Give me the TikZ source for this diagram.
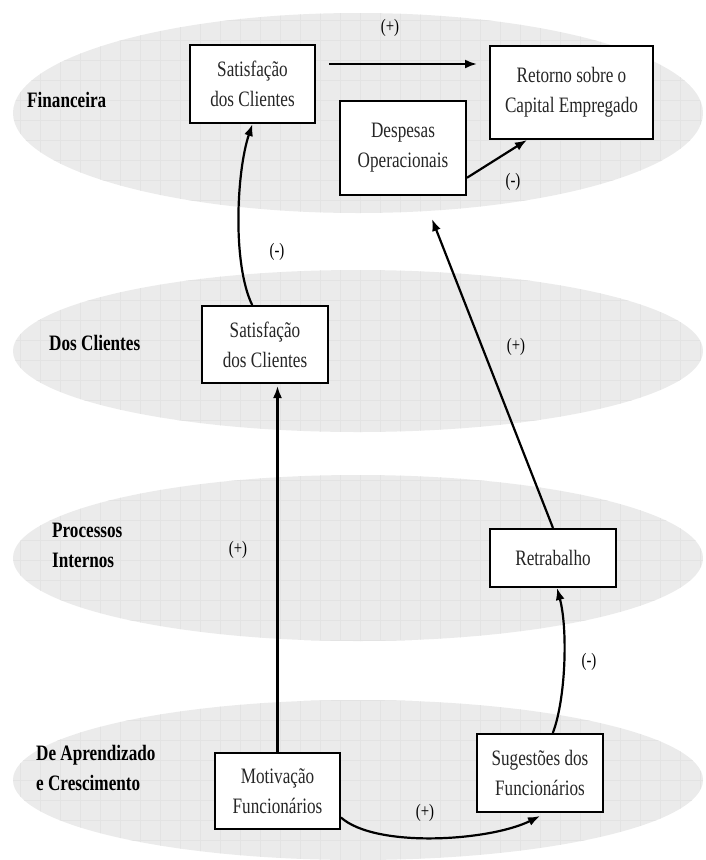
\documentclass[tikz,border=0pt]{standalone}
\usepackage{fontspec}
\setmainfont{Liberation Serif}[FakeStretch=0.78]
\usetikzlibrary{arrows.meta,calc}

\begin{document}
\begin{tikzpicture}[
    x=1pt, y=-1pt,
    font=\fontsize{22}{30}\selectfont,
    faixa/.style={fill=black!8},
    grade/.style={draw=black!11, line width=0.4pt},
    bloco/.style={draw, line width=2pt, fill=white, text=black!85,
      align=center, inner sep=0pt},
    rotulo/.style={font=\fontsize{22}{30}\selectfont\bfseries, align=left,
      anchor=west, inner sep=0pt},
    sinal/.style={font=\fontsize{19}{22}\selectfont, inner sep=0pt},
    seta/.style={line width=2.2pt, -{Latex[length=12pt,width=9pt]}}
  ]
    % area do desenho
    \useasboundingbox (0,0) rectangle (705,860);
    % faixas das perspectivas
    \fill[faixa] (358,113) ellipse [x radius=345pt, y radius=100pt];
    \fill[faixa] (358,351) ellipse [x radius=345pt, y radius=81pt];
    \fill[faixa] (358,558) ellipse [x radius=345pt, y radius=83pt];
    \fill[faixa] (358,780) ellipse [x radius=345pt, y radius=80pt];
    % grade leve dentro das faixas
    \begin{scope}
      \clip (358,113) ellipse [x radius=345pt, y radius=100pt]
            (358,351) ellipse [x radius=345pt, y radius=81pt]
            (358,558) ellipse [x radius=345pt, y radius=83pt]
            (358,780) ellipse [x radius=345pt, y radius=80pt];
      \draw[grade, step=20pt] (0,-860pt) grid (705pt,0);
    \end{scope}

    % nomes das perspectivas
    \node[rotulo] (fin) at (27,100) {Financeira};
    \node[rotulo] (cli) at (49,343) {Dos Clientes};
    \node[rotulo] (proc) at (52,545) {Processos\\Internos};
    \node[rotulo] (apr) at (36,768) {De Aprendizado\\e Crescimento};

    % blocos da perspectiva financeira
    \node[bloco, minimum width=125pt, minimum height=78pt] (satF) at (252.5,84)
      {Satisfação\\dos Clientes};
    \node[bloco, minimum width=163pt, minimum height=93pt] (ret) at (571.5,92.5)
      {Retorno sobre o\\Capital Empregado};
    \node[bloco, minimum width=126pt, minimum height=94pt] (desp) at (403,148)
      {Despesas\\Operacionais};
    % bloco dos clientes
    \node[bloco, minimum width=126pt, minimum height=77pt] (satC) at (265,344.5)
      {Satisfação\\dos Clientes};
    % bloco dos processos internos
    \node[bloco, minimum width=126pt, minimum height=58pt] (retr) at (553,558)
      {Retrabalho};
    % blocos de aprendizado e crescimento
    \node[bloco, minimum width=125pt, minimum height=76pt] (motiv) at (277.5,791)
      {Motivação\\Funcionários};
    \node[bloco, minimum width=126pt, minimum height=78pt] (sug) at (540,773)
      {Sugestões dos\\Funcionários};

    % pontos de saida das setas
    \coordinate (satFe) at ($(satF.north east)!.25!(satF.south east)$);
    \coordinate (despE) at ($(desp.north east)!.81!(desp.south east)$);
    \coordinate (retS) at ($(ret.south west)!.23!(ret.south east)$);
    \coordinate (satCn) at ($(satC.north west)!.4!(satC.north east)$);
    \coordinate (motivE) at ($(motiv.north east)!.84!(motiv.south east)$);
    \coordinate (sugN) at ($(sug.north west)!.6!(sug.north east)$);

    % setas
    \draw[seta, shorten <=13pt, shorten >=12pt] (satFe) -- (ret.west |- satFe);
    \draw[seta] (despE) -- (retS);
    \draw[seta] (satCn) .. controls +(-20,-41) and +(-16,47) .. (satF.south);
    \draw[seta] (retr.north) -- ([xshift=29pt,yshift=-23pt]desp.south);
    \draw[seta, shorten >=2pt] (motiv.north) -- (motiv.north |- satC.south);
    \draw[seta] (motivE) .. controls +(35,31) and +(-50,25) .. ([yshift=-3pt]sug.south);
    \draw[seta] (sugN) .. controls +(13,-34) and +(11,41) .. ([xshift=4pt]retr.south);

    % sinais das relacoes
    \node[sinal] (s1) at (390,28) {(+)};
    \node[sinal] (s2) at (513,182) {(-)};
    \node[sinal] (s3) at (277,252) {(-)};
    \node[sinal] (s4) at (516,347) {(+)};
    \node[sinal] (s5) at (238,550) {(+)};
    \node[sinal] (s6) at (589,662) {(-)};
    \node[sinal] (s7) at (425,813) {(+)};
\end{tikzpicture}
\end{document}
